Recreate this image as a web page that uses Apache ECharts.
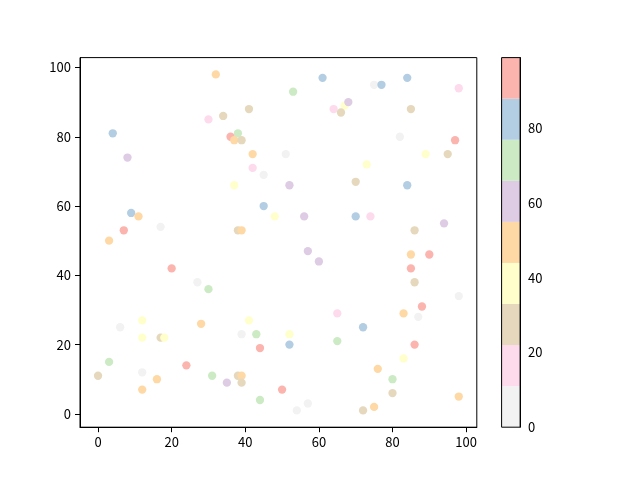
<!DOCTYPE html>
<html><head><meta charset="utf-8">
<script src="https://cdn.jsdelivr.net/npm/echarts@6/dist/echarts.min.js"></script>
<style>html,body{margin:0;padding:0;background:#fff}#c{width:640px;height:480px}</style>
</head><body><div id="c"></div>
<script>
// scatter data
const xs = [32,61,84,75,77,98,53,67,68,64,66,41,85,30,34,4,38,36,37,39,82,97,42,51,89,95,8,42,73,45,70,37,52,84,45,9,11,48,56,70,74,17,94,7,38,39,86,3,57,85,90,60,20,85,86,27,30,98,65,12,41,28,6,43,39,52,12,17,18,52,44,65,3,24,12,0,31,38,39,16,35,39,12,50,44,57,54,88,83,87,72,86,83,76,80,80,98,75,72];
const ys = [98,97,97,95,95,94,93,89,90,88,87,88,88,85,86,81,81,80,79,79,80,79,75,75,75,75,74,71,72,69,67,66,66,66,60,58,57,57,57,57,57,54,55,53,53,53,53,50,47,46,46,44,42,42,38,38,36,34,29,27,27,26,25,23,23,23,22,22,22,20,19,21,15,14,12,11,11,11,11,10,9,9,7,7,4,3,1,31,29,28,25,20,16,13,10,6,5,2,1];
const cs = [49,81,84,6,79,17,71,38,60,14,27,25,30,19,23,86,68,95,52,28,2,91,46,9,36,31,63,20,41,4,24,34,57,83,78,87,53,42,65,80,12,7,59,89,29,47,26,50,62,45,97,56,93,90,32,1,73,5,16,39,35,51,8,70,3,43,37,22,40,85,99,75,67,92,10,27,69,24,54,48,64,30,44,94,72,0,6,96,52,4,82,88,33,49,76,31,46,51,23];
// colormap (Pastel1 reversed), 9 discrete bins
const binColors = ['#f2f2f2','#fddaec','#e5d8bd','#ffffcc','#fed9a6','#decbe4','#ccebc5','#b3cde3','#fbb4ae'];
const cMin = 0, cMax = 99;
const axisTicks = [0,20,40,60,80,100];
const colorTicks = [0,20,40,60,80];
const xRange = [0, 98], yRange = [1, 98];

const FONT = 'Noto Sans CJK SC';
const data = xs.map((x,i)=>[x, ys[i], cs[i]]);
const step = (cMax - cMin) / binColors.length;
const pieces = binColors.map((col,i)=> i < binColors.length-1
  ? {gte: cMin + i*step, lt: cMin + (i+1)*step, color: col}
  : {gte: cMin + i*step, lte: cMax, color: col});
const xm = (xRange[1]-xRange[0])*0.05, ym = (yRange[1]-yRange[0])*0.05;

const lbl = {color:'#000', fontSize:13, fontFamily:FONT};
const chart = echarts.init(document.getElementById('c'), null, {renderer:'canvas'});
const cbSeries = binColors.map((col,i)=>({
  type:'bar', stack:'cb', xAxisIndex:1, yAxisIndex:1, data:[step],
  barWidth:'100%', itemStyle:{color:col}, z:-1, silent:true, animation:false
}));
chart.setOption({
  animation:false,
  grid:[
    {left:80, top:57.6, width:396.8, height:369.6, show:true, borderColor:'#000', borderWidth:1, backgroundColor:'transparent'},
    {left:501.6, top:57.6, width:18.5, height:369.6, show:true, borderColor:'#000', borderWidth:1, backgroundColor:'transparent', z:5}
  ],
  visualMap:{type:'piecewise', show:false, dimension:2, seriesIndex:0, pieces:pieces},
  xAxis:[
    {type:'value', gridIndex:0, min:xRange[0]-xm, max:xRange[1]+xm,
     splitLine:{show:false},
     axisLine:{onZero:false, lineStyle:{color:'#000', width:1}},
     axisTick:{customValues:axisTicks, length:5, lineStyle:{color:'#000'}},
     axisLabel:Object.assign({customValues:axisTicks, margin:8}, lbl)},
    {type:'category', gridIndex:1, data:[''], show:false}
  ],
  yAxis:[
    {type:'value', gridIndex:0, min:yRange[0]-ym, max:yRange[1]+ym,
     splitLine:{show:false},
     axisLine:{onZero:false, lineStyle:{color:'#000', width:1}},
     axisTick:{customValues:axisTicks, length:5, lineStyle:{color:'#000'}},
     axisLabel:Object.assign({customValues:axisTicks, margin:9}, lbl)},
    {type:'value', gridIndex:1, min:cMin, max:cMax, position:'right',
     splitLine:{show:false},
     axisLine:{show:true, lineStyle:{color:'#000', width:1}},
     axisTick:{customValues:colorTicks, length:5, lineStyle:{color:'#000'}},
     axisLabel:Object.assign({customValues:colorTicks, margin:8}, lbl)}
  ],
  series:[
    {type:'scatter', xAxisIndex:0, yAxisIndex:0, data:data, symbolSize:8.3,
     itemStyle:{opacity:1}, animation:false}
  ].concat(cbSeries)
});
</script></body></html>
